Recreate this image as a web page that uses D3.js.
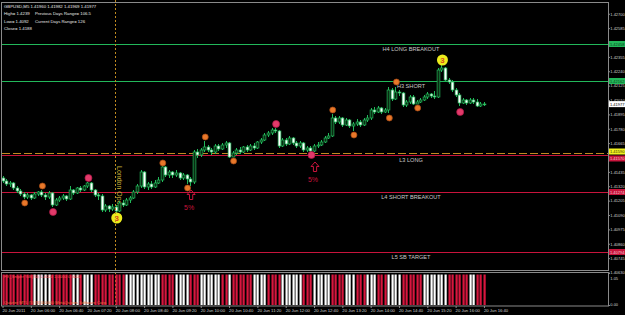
<!DOCTYPE html>
<html>
<head>
<meta charset="utf-8">
<script src="https://cdn.jsdelivr.net/npm/d3@7"></script>
<style>
body { margin: 0; background: #000; }
svg { display: block; }
text { font-family: "Liberation Sans", Arial, sans-serif; }
</style>
</head>
<body>
<svg id="chart" width="625" height="315"></svg>
<script>
// GBPUSD M5, 20 Jun 2011, bars from 05:20 to 16:40

const opens = [1.41386,1.41362,1.41338,1.41346,1.41306,1.41282,1.41258,1.41234,1.41250,1.41226,
  1.41258,1.41274,1.41250,1.41234,1.41266,1.41170,1.41210,1.41226,1.41242,1.41218,
  1.41290,1.41266,1.41306,1.41290,1.41322,1.41346,1.41290,1.41250,1.41242,1.41130,
  1.41162,1.41138,1.41154,1.41122,1.41186,1.41170,1.41210,1.41226,1.41274,1.41322,
  1.41434,1.41314,1.41338,1.41314,1.41346,1.41370,1.41474,1.41410,1.41434,1.41410,
  1.41426,1.41386,1.41410,1.41378,1.41354,1.41594,1.41570,1.41610,1.41634,1.41610,
  1.41594,1.41642,1.41618,1.41650,1.41666,1.41554,1.41586,1.41610,1.41594,1.41634,
  1.41610,1.41642,1.41626,1.41674,1.41690,1.41730,1.41746,1.41770,1.41762,1.41642,
  1.41690,1.41658,1.41706,1.41666,1.41642,1.41666,1.41610,1.41626,1.41602,1.41642,
  1.41650,1.41674,1.41706,1.41722,1.41866,1.41834,1.41866,1.41810,1.41850,1.41802,
  1.41818,1.41834,1.41810,1.41850,1.41866,1.41930,1.41914,1.41946,1.41914,1.41930,
  1.42090,1.42018,1.42074,1.42066,1.41970,1.41994,1.42034,1.41978,1.41994,1.42010,
  1.42034,1.42058,1.42042,1.42034,1.42250,1.42266,1.42170,1.42154,1.42090,1.42050,
  1.41986,1.42010,1.41986,1.42010,1.41994,1.41962,1.41978]
const highs = [1.41402,1.41378,1.41362,1.41354,1.41322,1.41298,1.41274,1.41266,1.41258,1.41274,
  1.41282,1.41290,1.41266,1.41282,1.41274,1.41226,1.41242,1.41258,1.41250,1.41322,
  1.41298,1.41314,1.41322,1.41330,1.41354,1.41354,1.41298,1.41266,1.41258,1.41178,
  1.41170,1.41178,1.41170,1.41202,1.41210,1.41226,1.41242,1.41290,1.41338,1.41450,
  1.41442,1.41354,1.41362,1.41370,1.41394,1.41482,1.41482,1.41450,1.41442,1.41450,
  1.41434,1.41426,1.41418,1.41394,1.41610,1.41618,1.41626,1.41682,1.41650,1.41626,
  1.41658,1.41658,1.41666,1.41682,1.41674,1.41602,1.41626,1.41634,1.41642,1.41650,
  1.41658,1.41666,1.41682,1.41706,1.41746,1.41762,1.41786,1.41786,1.41770,1.41706,
  1.41706,1.41722,1.41714,1.41682,1.41682,1.41674,1.41642,1.41642,1.41658,1.41674,
  1.41690,1.41722,1.41746,1.41898,1.41882,1.41882,1.41874,1.41866,1.41858,1.41834,
  1.41858,1.41850,1.41866,1.41890,1.41946,1.41954,1.41962,1.41954,1.41946,1.42114,
  1.42106,1.42114,1.42090,1.42074,1.42010,1.42050,1.42050,1.42010,1.42026,1.42050,
  1.42074,1.42066,1.42082,1.42266,1.42290,1.42274,1.42186,1.42170,1.42106,1.42066,
  1.42026,1.42018,1.42026,1.42026,1.42018,1.41994,1.41994]
const lows = [1.41346,1.41322,1.41314,1.41290,1.41266,1.41242,1.41218,1.41218,1.41210,1.41218,
  1.41242,1.41234,1.41210,1.41218,1.41154,1.41162,1.41194,1.41210,1.41202,1.41210,
  1.41250,1.41258,1.41274,1.41282,1.41306,1.41274,1.41234,1.41210,1.41114,1.41114,
  1.41114,1.41122,1.41106,1.41114,1.41154,1.41162,1.41186,1.41218,1.41258,1.41306,
  1.41298,1.41290,1.41298,1.41306,1.41338,1.41354,1.41394,1.41386,1.41386,1.41394,
  1.41370,1.41370,1.41338,1.41322,1.41338,1.41546,1.41554,1.41594,1.41594,1.41570,
  1.41578,1.41602,1.41610,1.41626,1.41546,1.41554,1.41570,1.41578,1.41586,1.41594,
  1.41602,1.41610,1.41618,1.41658,1.41682,1.41714,1.41730,1.41746,1.41626,1.41634,
  1.41642,1.41650,1.41650,1.41626,1.41626,1.41594,1.41594,1.41594,1.41594,1.41626,
  1.41642,1.41666,1.41698,1.41714,1.41818,1.41818,1.41794,1.41802,1.41786,1.41762,
  1.41802,1.41794,1.41802,1.41834,1.41850,1.41898,1.41906,1.41898,1.41906,1.41906,
  1.42002,1.42010,1.42042,1.41954,1.41954,1.41978,1.41970,1.41978,1.41986,1.42002,
  1.42018,1.42026,1.42018,1.42026,1.42234,1.42154,1.42138,1.42074,1.42034,1.41962,
  1.41978,1.41970,1.41978,1.41978,1.41954,1.41954,1.41962]
const closes = [1.41362,1.41338,1.41346,1.41306,1.41282,1.41258,1.41234,1.41250,1.41226,1.41258,
  1.41274,1.41250,1.41234,1.41266,1.41170,1.41210,1.41226,1.41242,1.41218,1.41290,
  1.41266,1.41306,1.41290,1.41322,1.41346,1.41290,1.41250,1.41242,1.41130,1.41162,
  1.41138,1.41154,1.41122,1.41186,1.41170,1.41210,1.41226,1.41274,1.41322,1.41434,
  1.41314,1.41338,1.41314,1.41346,1.41370,1.41474,1.41410,1.41434,1.41410,1.41426,
  1.41386,1.41410,1.41378,1.41354,1.41594,1.41570,1.41610,1.41634,1.41610,1.41594,
  1.41642,1.41618,1.41650,1.41666,1.41554,1.41586,1.41610,1.41594,1.41634,1.41610,
  1.41642,1.41626,1.41674,1.41690,1.41730,1.41746,1.41770,1.41762,1.41642,1.41690,
  1.41658,1.41706,1.41666,1.41642,1.41666,1.41610,1.41626,1.41602,1.41642,1.41650,
  1.41674,1.41706,1.41722,1.41866,1.41834,1.41866,1.41810,1.41850,1.41802,1.41818,
  1.41834,1.41810,1.41850,1.41866,1.41930,1.41914,1.41946,1.41914,1.41930,1.42090,
  1.42018,1.42074,1.42066,1.41970,1.41994,1.42034,1.41978,1.41994,1.42010,1.42034,
  1.42058,1.42042,1.42034,1.42250,1.42266,1.42170,1.42154,1.42090,1.42050,1.41986,
  1.42010,1.41986,1.42010,1.41994,1.41962,1.41978,1.41977]

// sub window histogram, +1 = white, -1 = red
const trend = [-1,-1,-1,-1,-1,-1,-1,-1,-1, 1,1,1,1,1, -1,-1,-1,-1,-1,-1, 1,1, -1, 1,1,1,
  -1,-1,-1,-1,-1,-1,-1,-1,-1, 1,1,1,1,1,1,1,1,1,1, -1,-1,-1,-1, 1,1,1,1, -1,-1,-1,
  1,1,1,1,1,1, -1,-1, 1, -1,-1,-1,-1,-1,-1, 1,1,1,1, -1,-1,-1,-1, 1,1,1,1,1,1,
  -1,-1,-1, 1,1,1,1,1, -1,-1,-1,-1, 1,1,1, -1,-1,-1, 1,1,1, -1,-1,-1, 1,1,1,1,
  -1,-1,-1,-1,-1,-1, 1,1,1,1,1,1,1, -1,-1,-1,-1,-1,-1, 1,1, -1,-1,-1]

// signal markers (bar index + price)
const orangeBars = [6, 11, 45, 52, 57, 65, 93, 99, 109, 111, 117]
const orangePrices = [1.41186, 1.41322, 1.41506, 1.41306, 1.41714, 1.41522, 1.41930, 1.41730, 1.41866, 1.42154, 1.41946]
const pinkBars = [14, 24, 77, 87, 129]
const pinkPrices = [1.41114, 1.41386, 1.41818, 1.41570, 1.41914]
const ballBars = [32, 124]
const ballPrices = [1.41066, 1.42330]
const ballLabels = ["3", "3"]
const arrowBars = [53, 88]
const arrowPrices = [1.41290, 1.41514]
const arrowLabels = ["5%", "5%"]

// pivot levels
const levelNames = ["H4 LONG BREAKOUT", "H3 SHORT", "L3 LONG", "L4 SHORT BREAKOUT", "L5 SB TARGET"]
const levelPrices = [1.42458, 1.42162, 1.41570, 1.41274, 1.40794]
const dashedLevel = 1.41590
const lastPrice = 1.41977

const priceTicks = [1.40630,1.40745,1.40860,1.40975,1.41090,1.41205,1.41320,1.41435,1.41550,1.41665,
  1.41780,1.41895,1.42010,1.42125,1.42240,1.42355,1.42470,1.42585,1.42700]
const indTicks = [0, 1.05]

const headerLines = ["GBPUSD,M5  1.41960 1.41982 1.41969 1.41977",
  "High= 1.4239", "Low= 1.4092", "Close= 1.4188"]
const headerRight = ["Previous Days Range= 106.5", "Current Days Range= 126"]
const indLabelTop = "FX_Sniper %B(20) 1.0000 1.0000 0.0000"
const indLabelBottom = "Quarter MTL (5) [B] 0.0000  MetaQuotes Software Corp."

const t0 = Date.UTC(2011, 5, 20, 5, 20)
const barTime = i => new Date(t0 + i * 5 * 60000)
const londonOpen = new Date(Date.UTC(2011, 5, 20, 8, 0))

const pLeft = 2, pRight = 608, pTop = 3, mainBottom = 270, indTop = 273, indBottom = 305

const svg = d3.select("#chart")
svg.append("rect").attr("width", 625).attr("height", 315).attr("fill", "#000")

const x = d3.scaleUtc().domain([barTime(0), barTime(171)]).range([2.5, 2.5 + 3.54 * 171])
const y = d3.scaleLinear().domain([1.40650, 1.42786]).range([mainBottom, pTop])
const yi = d3.scaleLinear().domain([0, 1.05]).range([indBottom, indTop])

const green = "#22b85a", crimson = "#c8143c", olive = "#c08a20"

svg.append("clipPath").attr("id", "main").append("rect")
  .attr("x", pLeft).attr("y", pTop).attr("width", pRight - pLeft).attr("height", mainBottom - pTop)
const main = svg.append("g").attr("clip-path", "url(#main)")

// level lines
levelPrices.forEach((p, k) => {
  const c = levelNames[k][0] == "H" ? green : crimson
  main.append("line").attr("x1", pLeft).attr("x2", pRight)
    .attr("y1", Math.round(y(p)) + 0.5).attr("y2", Math.round(y(p)) + 0.5)
    .attr("stroke", c).attr("stroke-width", 1)
})
main.append("line").attr("x1", pLeft).attr("x2", pRight)
  .attr("y1", Math.round(y(dashedLevel)) + 0.5).attr("y2", Math.round(y(dashedLevel)) + 0.5)
  .attr("stroke", olive).attr("stroke-width", 1.2).style("stroke-dasharray", "8,3")

main.selectAll("text.level").data(levelNames).join("text")
  .attr("class", "level")
  .attr("x", 411).attr("y", (d, k) => y(levelPrices[k]) + 7)
  .attr("text-anchor", "middle").attr("font-size", 5.6).attr("fill", "#c8c8c8")
  .text(d => d)

// london open marker
svg.append("line").attr("x1", Math.round(x(londonOpen)) - 0.5).attr("x2", Math.round(x(londonOpen)) - 0.5)
  .attr("y1", 0).attr("y2", indBottom)
  .attr("stroke", olive).attr("stroke-width", 1).style("stroke-dasharray", "2,2")
main.append("text")
  .attr("transform", `translate(${x(londonOpen) + 1},166) rotate(90)`)
  .attr("font-size", 7).attr("fill", "#c8b038")
  .text("London Open")

// candles
const idx = d3.range(opens.length)
const candles = main.append("g")
candles.selectAll("line").data(idx).join("line")
  .attr("x1", i => Math.round(x(barTime(i))) + 0.5).attr("x2", i => Math.round(x(barTime(i))) + 0.5)
  .attr("y1", i => y(highs[i])).attr("y2", i => y(lows[i]))
  .attr("stroke", green).attr("stroke-width", 1)
candles.selectAll("rect").data(idx).join("rect")
  .attr("x", i => Math.round(x(barTime(i))) - 0.9)
  .attr("width", 2.8)
  .attr("y", i => y(Math.max(opens[i], closes[i])))
  .attr("height", i => Math.max(0.8, Math.abs(y(opens[i]) - y(closes[i]))))
  .attr("fill", i => closes[i] < opens[i] ? "#fff" : "#0a2a12")
  .attr("stroke", green).attr("stroke-width", 0.7)

// markers
main.selectAll("circle.orange").data(orangeBars).join("circle")
  .attr("class", "orange")
  .attr("cx", d => x(barTime(d)) + 1).attr("cy", (d, k) => y(orangePrices[k]))
  .attr("r", 3).attr("fill", "#e8782a").attr("stroke", "#a84a14").attr("stroke-width", 0.7)
main.selectAll("circle.pink").data(pinkBars).join("circle")
  .attr("class", "pink")
  .attr("cx", d => x(barTime(d)) + 1).attr("cy", (d, k) => y(pinkPrices[k]))
  .attr("r", 3.5).attr("fill", "#e23a6a").attr("stroke", "#b01848").attr("stroke-width", 0.7)

const balls = main.selectAll("g.ball").data(ballBars).join("g")
  .attr("class", "ball")
  .attr("transform", (d, k) => `translate(${x(barTime(d)) + 1},${y(ballPrices[k])})`)
balls.append("circle").attr("r", 5.5).attr("fill", "#ecec1c")
balls.append("text").attr("text-anchor", "middle").attr("y", 3)
  .attr("font-size", 8).attr("font-weight", "bold").attr("fill", "#d84a1a")
  .text((d, k) => ballLabels[k])

const arrows = main.selectAll("g.arrow").data(arrowBars).join("g")
  .attr("class", "arrow")
  .attr("transform", (d, k) => `translate(${x(barTime(d)) + 1},${y(arrowPrices[k])})`)
arrows.append("path")
  .attr("d", "M0,0 L4,4.5 L1.6,4.5 L1.6,9.5 L-1.6,9.5 L-1.6,4.5 L-4,4.5 Z")
  .attr("fill", "none").attr("stroke", crimson).attr("stroke-width", 1)
arrows.append("text").attr("text-anchor", "middle").attr("x", -2).attr("y", 20)
  .attr("font-size", 7).attr("fill", crimson)
  .text((d, k) => arrowLabels[k])

// header
svg.selectAll("text.head").data(headerLines).join("text")
  .attr("class", "head")
  .attr("x", 4).attr("y", (d, k) => 8 + k * 7.3)
  .attr("font-size", 4.3).attr("fill", "#e8e8e8")
  .text(d => d)
svg.selectAll("text.headr").data(headerRight).join("text")
  .attr("class", "headr")
  .attr("x", 35).attr("y", (d, k) => 15.3 + k * 7.3)
  .attr("font-size", 4.3).attr("fill", "#e8e8e8")
  .text(d => d)

// indicator window
svg.append("g").selectAll("rect").data(idx).join("rect")
  .attr("x", i => Math.round(x(barTime(i))) - 0.5)
  .attr("width", 2.2)
  .attr("y", yi(1.0))
  .attr("height", yi(0) - yi(1.0))
  .attr("fill", i => trend[i] > 0 ? "#ffffff" : "#d8163e")
svg.append("text").attr("x", 4).attr("y", indTop + 5).attr("font-size", 4.2)
  .attr("fill", "#ff5050").text(indLabelTop)
svg.append("text").attr("x", 4).attr("y", indBottom - 1.5).attr("font-size", 4.2)
  .attr("fill", "#f07040").text(indLabelBottom)

// frame
const frame = svg.append("g").attr("stroke", "#8a8a8a").attr("stroke-width", 1).attr("fill", "none")
frame.append("rect").attr("x", pLeft - 0.5).attr("y", pTop - 0.5).attr("width", pRight - pLeft + 1).attr("height", mainBottom - pTop + 1)
frame.append("rect").attr("x", pLeft - 0.5).attr("y", indTop - 0.5).attr("width", pRight - pLeft + 1).attr("height", indBottom - indTop + 1.5)

// price axis
const yAxis = svg.append("g").attr("transform", `translate(${pRight + 0.5},0)`)
  .call(d3.axisRight(y).tickValues(priceTicks).tickSize(1.5).tickPadding(0.3).tickFormat(d3.format(".5f")))
yAxis.select(".domain").remove()
yAxis.selectAll("line").attr("stroke", "#8a8a8a")
yAxis.selectAll("text").attr("fill", "#d0d0d0").attr("font-size", 4)
  .attr("font-family", "Liberation Sans, sans-serif")

const iAxis = svg.append("g").attr("transform", `translate(${pRight + 0.5},0)`)
  .call(d3.axisRight(yi).tickValues(indTicks).tickSize(1.5).tickPadding(0.3).tickFormat(d3.format(".2f")))
iAxis.select(".domain").remove()
iAxis.selectAll("line").attr("stroke", "#8a8a8a")
iAxis.selectAll("text").attr("fill", "#d0d0d0").attr("font-size", 4)
  .attr("font-family", "Liberation Sans, sans-serif")
  .attr("dy", d => d > 0 ? "1.6em" : "0.1em")

// price markers on the axis (L3 tag sits just under the yellow one, as in the terminal)
const markers = levelPrices.map((p, k) => ({p: p, fill: levelNames[k][0] == "H" ? green : crimson,
  text: levelNames[k][0] == "H" ? "#0c4020" : "#f4c8d0", shift: levelNames[k] == "L3 LONG" ? 3.5 : 0}))
markers.push({p: dashedLevel, fill: "#f0f020", text: "#303000", shift: -1})
markers.push({p: lastPrice, fill: "#ffffff", text: "#000", shift: 0})
markers.forEach(m => {
  const g = svg.append("g").attr("transform", `translate(${pRight + 1},${y(m.p) + m.shift})`)
  g.append("rect").attr("x", 0).attr("y", -3).attr("width", 16).attr("height", 6).attr("fill", m.fill)
  g.append("text").attr("x", 1).attr("y", 1.5).attr("font-size", 4).attr("fill", m.text)
    .text(d3.format(".5f")(m.p))
})

// time axis
const timeTicks = [barTime(0)].concat(d3.range(8, 137, 8).map(barTime))
const fmtDay = d3.utcFormat("%d %b %Y"), fmtTime = d3.utcFormat("%d %b %H:%M")
const xAxis = svg.append("g").attr("transform", `translate(0,${indBottom + 1})`)
  .call(d3.axisBottom(x).tickValues(timeTicks).tickSize(2).tickPadding(1)
    .tickFormat((d, k) => k == 0 ? fmtDay(d) : fmtTime(d)))
xAxis.select(".domain").remove()
xAxis.selectAll("line").attr("stroke", "#8a8a8a")
xAxis.selectAll("text").attr("fill", "#d0d0d0").attr("font-size", 4.2)
  .attr("text-anchor", "start").attr("x", -0.5)
  .attr("font-family", "Liberation Sans, sans-serif")
</script>
</body>
</html>
